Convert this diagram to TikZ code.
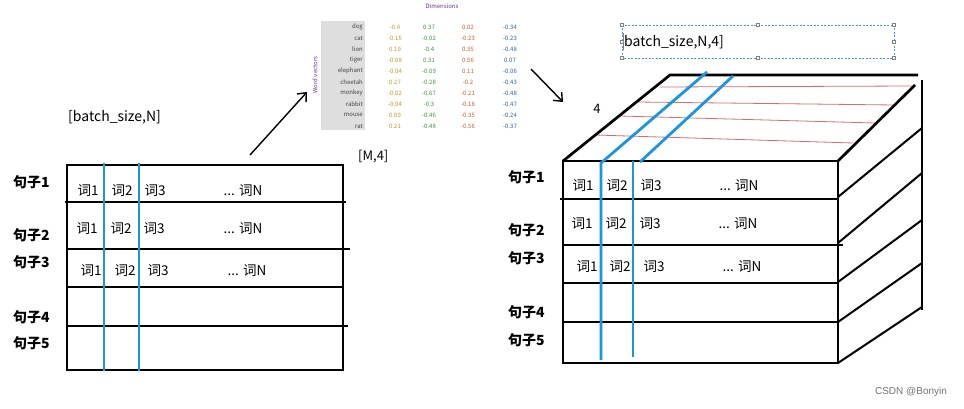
\documentclass[tikz,border=0pt]{standalone}
\usepackage{fontspec}
\usetikzlibrary{arrows.meta}
\setmainfont{Noto Sans CJK SC}
\newfontfamily\latinsans{Liberation Sans}
\definecolor{lineblue}{RGB}{27,150,222}
\definecolor{redline}{RGB}{214,110,110}
\definecolor{cA}{RGB}{204,150,30}
\definecolor{cB}{RGB}{60,150,60}
\definecolor{cC}{RGB}{205,95,40}
\definecolor{cD}{RGB}{45,95,170}
\definecolor{vpurple}{RGB}{112,48,160}
\definecolor{selblue}{RGB}{80,150,210}
\begin{document}
\begin{tikzpicture}[x=1pt,y=-1pt,
  blk/.style={line width=2.7pt,black},
  sidel/.style={line width=2pt,black},
  bluel/.style={line width=2.8pt,lineblue},
  redl/.style={line width=0.8pt,redline},
  sentlab/.style={font=\bfseries\fontsize{14}{14}\selectfont,anchor=west,inner sep=0pt},
  wordlab/.style={font=\fontsize{13.5}{14}\selectfont,inner sep=0pt},
  dimlab/.style={font=\fontsize{14}{14}\selectfont,inner sep=0pt,anchor=west},
  tval/.style={font=\fontsize{6}{6}\selectfont,inner sep=0pt},
  arr/.style={line width=1.4pt,-{Straight Barb[length=7pt,width=12pt]}},
  handle/.style={draw=gray,fill=white,line width=0.4pt,minimum size=3pt,inner sep=0pt}
]
\useasboundingbox (0,0) rectangle (964,409);
\fill[white] (0,0) rectangle (964,409);

% ---------- left table ----------
\draw[blk] (67,165) rectangle (343,370);
\draw[blk] (65,202) -- (346,202);
\draw[blk] (67,249) -- (350,249);
\draw[blk] (67,287) -- (343,287);
\draw[blk] (67,326) -- (348,326);
\draw[bluel] (104,163) -- (104,371);
\draw[bluel] (139,163) -- (139,371);

\node[sentlab] (ls1) at (13,182) {句子1};
\node[sentlab] (ls2) at (13,235) {句子2};
\node[sentlab] (ls3) at (13,262) {句子3};
\node[sentlab] (ls4) at (13,317) {句子4};
\node[sentlab] (ls5) at (13,343) {句子5};

\node[wordlab] (la1) at (88,191) {词1};
\node[wordlab] (la2) at (122,191) {词2};
\node[wordlab] (la3) at (155,191) {词3};
\node[wordlab] (laN) at (243,191) {... 词N};
\node[wordlab] (lb1) at (87,229) {词1};
\node[wordlab] (lb2) at (121,229) {词2};
\node[wordlab] (lb3) at (154,229) {词3};
\node[wordlab] (lbN) at (243,229) {... 词N};
\node[wordlab] (lc1) at (91,271) {词1};
\node[wordlab] (lc2) at (125,271) {词2};
\node[wordlab] (lc3) at (158,271) {词3};
\node[wordlab] (lcN) at (247,271) {... 词N};

\node[dimlab] (bn) at (68,117) {[batch\_size,N]};
\node[dimlab,font=\fontsize{13}{13}\selectfont] (m4) at (358,157) {[M,4]};

% ---------- word vector table ----------
\fill[black!13] (321,21) rectangle (365,130);
\node[tval,text=vpurple] (dimt) at (442,6) {Dimensions};
\node[tval,text=vpurple,rotate=90] (wvt) at (315,75) {Word vectors};
\foreach \w/\a/\b/\c/\d [count=\i] in {
  dog/-0.4/0.37/0.02/-0.34,
  cat/-0.15/-0.02/-0.23/-0.23,
  lion/0.19/-0.4/0.35/-0.48,
  tiger/-0.08/0.31/0.56/0.07,
  elephant/-0.04/-0.09/0.11/-0.06,
  cheetah/0.27/-0.28/-0.2/-0.43,
  monkey/-0.02/-0.67/-0.21/-0.48,
  rabbit/-0.04/-0.3/-0.18/-0.47,
  mouse/0.09/-0.46/-0.35/-0.24,
  rat/0.21/-0.48/-0.56/-0.37}{
  \pgfmathsetmacro{\yy}{27+11*(\i-1)}
  \node[tval,anchor=east,text=black!75] (tw\i) at (363,\yy) {\w};
  \node[tval,text=cA] (ta\i) at (395,\yy) {\a};
  \node[tval,text=cB] (tb\i) at (429,\yy) {\b};
  \node[tval,text=cC] (tc\i) at (468,\yy) {\c};
  \node[tval,text=cD] (td\i) at (510,\yy) {\d};
}

% ---------- arrows ----------
\coordinate (a1s) at (250,155);
\coordinate (a1e) at (307,92);
\coordinate (a2s) at (531,69);
\coordinate (a2e) at (563,102);
\draw[arr] (a1s) -- (a1e);
\draw[arr] (a2s) -- (a2e);

% ---------- selection box ----------
\draw[selblue,dashed,line width=0.6pt,dash pattern=on 2pt off 1.5pt] (622,25) rectangle (894,58);
\foreach \hx/\hy [count=\k] in {622/25,758/25,894/25,622/41.5,894/41.5,622/58,758/58,894/58}{
  \node[handle] (h\k) at (\hx,\hy) {};
}
\draw[gray,line width=1pt] (623,33) -- (623,50);
\node[dimlab] (bn4) at (624,42) {batch\_size,N,4]};

% ---------- 3D block ----------
\draw[redl] (660,87) -- (913,86);
\draw[redl] (637,102) -- (895,105);
\draw[redl] (620,116) -- (875,123);
\draw[redl] (595,135) -- (853,143);

\draw[blk] (563,161) -- (670,75) -- (918,75);
\draw[blk] (838,161) -- (915,85);
\draw[blk] (922,80) -- (922,310);
\draw[blk] (563,161) rectangle (838,363);
\draw[blk] (560,199) -- (838,199);
\draw[blk] (563,245) -- (843,245);
\draw[blk] (563,283) -- (838,283);
\draw[blk] (563,322) -- (838,322);
\draw[sidel] (838,197) -- (922,128);
\draw[sidel] (838,243) -- (922,173);
\draw[sidel] (838,282) -- (922,220);
\draw[sidel] (838,322) -- (922,263);
\draw[sidel] (838,363) -- (922,307);

\draw[bluel] (601,360) -- (601,163) -- (707,72);
\draw[bluel] (633,357) -- (633,161);
\draw[bluel] (640,162) -- (733,76);

\node[wordlab,font=\fontsize{13}{13}\selectfont] (four) at (597,109) {4};

\node[sentlab] (rs1) at (508,177) {句子1};
\node[sentlab] (rs2) at (508,230) {句子2};
\node[sentlab] (rs3) at (508,258) {句子3};
\node[sentlab] (rs4) at (508,312) {句子4};
\node[sentlab] (rs5) at (508,340) {句子5};

\node[wordlab] (ra1) at (583,186) {词1};
\node[wordlab] (ra2) at (617,186) {词2};
\node[wordlab] (ra3) at (651,186) {词3};
\node[wordlab] (raN) at (739,186) {... 词N};
\node[wordlab] (rb1) at (582,224) {词1};
\node[wordlab] (rb2) at (616,224) {词2};
\node[wordlab] (rb3) at (650,224) {词3};
\node[wordlab] (rbN) at (738,224) {... 词N};
\node[wordlab] (rc1) at (587,267) {词1};
\node[wordlab] (rc2) at (620,267) {词2};
\node[wordlab] (rc3) at (654,267) {词3};
\node[wordlab] (rcN) at (742,267) {... 词N};

\node[font=\latinsans\fontsize{10}{10}\selectfont,text=black!55,inner sep=0pt] (wm) at (911,392) {CSDN @Bonyin};
\end{tikzpicture}
\end{document}
